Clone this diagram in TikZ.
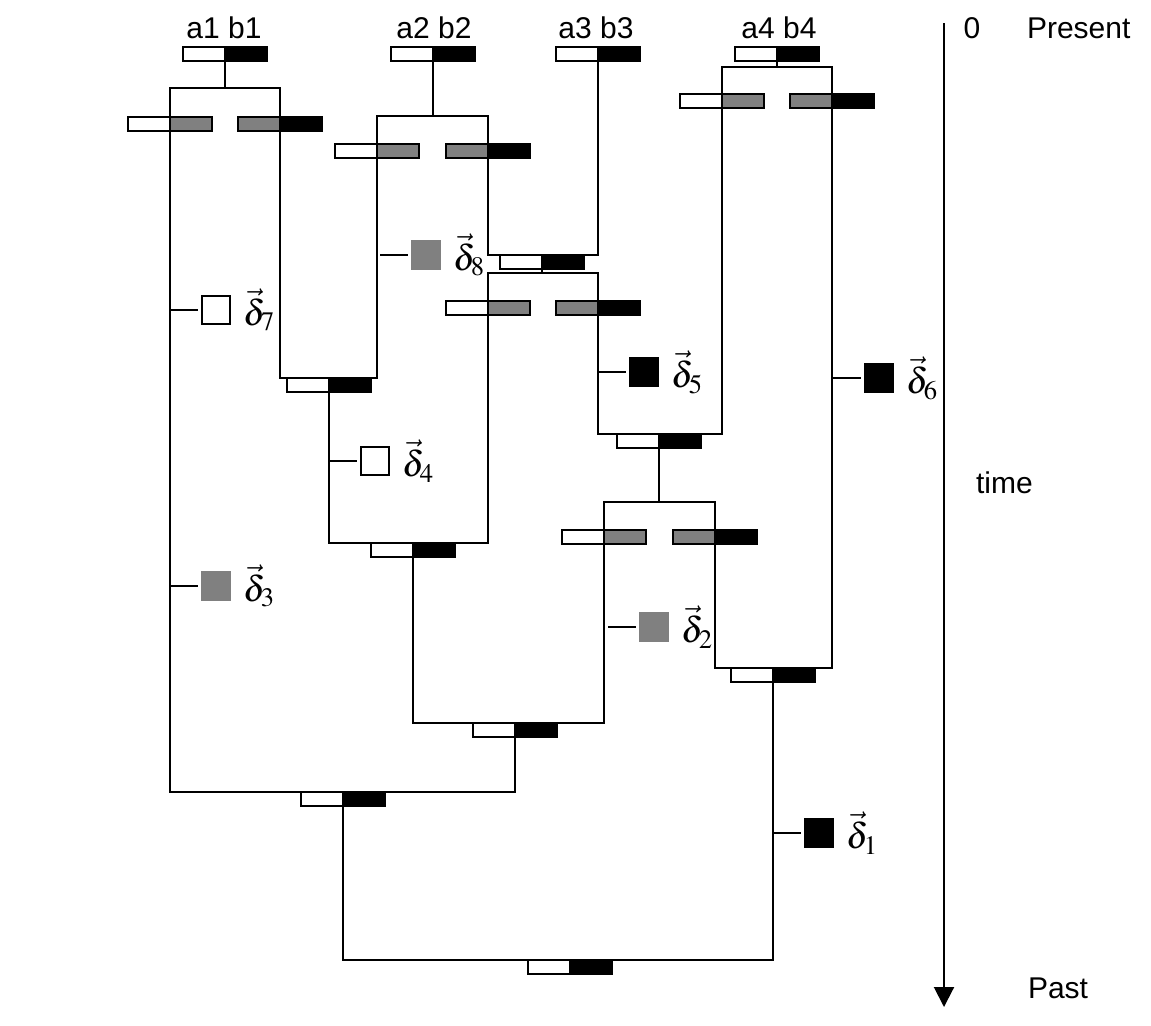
\documentclass[tikz,border=0pt]{standalone}
\usepackage{mathptmx}
\usepackage[no-math]{fontspec}
\setmainfont{Liberation Sans}
\usepackage{tikz}
\usetikzlibrary{positioning, arrows.meta}
\definecolor{midgray}{RGB}{128, 128, 128}
% gene pair: name, x, y, left half, right half
\newcommand*{\gpair}[5]{%
  \node[#4, anchor=east] (#1-l) at (#2, #3) {};
  \node[#5, anchor=west] (#1-r) at (#2, #3) {};}

\begin{document}
\begin{tikzpicture}[
   x=0.5pt, y=-0.5pt,
   line width=1pt,
   half/.style={rectangle, draw=black, line width=1pt, inner sep=0, outer sep=0,
                minimum width=21pt, minimum height=7pt},
   wbox/.style={half, fill=white},
   gbox/.style={half, fill=midgray},
   bbox/.style={half, fill=black},
   sq/.style={rectangle, line width=1pt, inner sep=0, outer sep=0, minimum size=14pt},
   whitesq/.style={sq, draw=black, fill=white},
   graysq/.style={sq, draw=midgray, fill=midgray},
   blacksq/.style={sq, draw=black, fill=black},
   lbl/.style={inner sep=0, font=\fontsize{15}{18}\selectfont},
   dlabel/.style={inner sep=0, font=\fontsize{18}{21}\selectfont}
  ]

  \useasboundingbox (0, 0) rectangle (1151, 1025);

  % Gene pairs
  \foreach \nm/\x/\y/\ls/\rs in {g1/225/54/wbox/bbox, g2/433/54/wbox/bbox,
                                  g3/598/54/wbox/bbox, g4/777/54/wbox/bbox,
                                  p1a/170/124/wbox/gbox, p1b/280/124/gbox/bbox,
                                  p2a/377/151/wbox/gbox, p2b/488/151/gbox/bbox,
                                  p4a/722/101/wbox/gbox, p4b/832/101/gbox/bbox,
                                  s1/542/262/wbox/bbox,
                                  p5a/488/308/wbox/gbox, p5b/598/308/gbox/bbox,
                                  s2/329/385/wbox/bbox, s4/659/441/wbox/bbox,
                                  p6a/604/537/wbox/gbox, p6b/715/537/gbox/bbox,
                                  s3/413/550/wbox/bbox, s5/773/675/wbox/bbox,
                                  s6/515/730/wbox/bbox, s7/343/799/wbox/bbox,
                                  s0/570/967/wbox/bbox} {
    \gpair{\nm}{\x}{\y}{\ls}{\rs}
  }

  \node[lbl, anchor=base] (n1) at (224, 38) {a1 b1};
  \node[lbl, anchor=base] (n2) at (434, 38) {a2 b2};
  \node[lbl, anchor=base] (n3) at (596, 38) {a3 b3};
  \node[lbl, anchor=base] (n4) at (779, 38) {a4 b4};

  % Duplications
  \coordinate (bar1) at (225, 88);
  \coordinate (bar2) at (433, 116);
  \coordinate (bar4) at (777, 67);
  \coordinate (bar5) at (542, 273);
  \coordinate (bar6) at (659, 502);

  \foreach \P/\M/\X/\Y in {g1/bar1/p1a/p1b, g2/bar2/p2a/p2b, g4/bar4/p4a/p4b,
                           s1/bar5/p5a/p5b, s4/bar6/p6a/p6b} {
    \draw (\P-l.south east) -- (\M);
    \draw (\X-l.north east) |- (\M) -| (\Y-l.north east);
  }

  % Speciations
  \foreach \X/\P/\Y in {p2b/s1/g3, p1b/s2/p2a, s2/s3/p5a, p5b/s4/p4a,
                        p6b/s5/p4b, s3/s6/p6a, p1a/s7/s6, s7/s0/s5} {
    \draw (\X-l.south east) |- (\P-l.north east) -| (\Y-l.south east);
  }

  % Changes along branches
  \foreach \n/\x/\y/\s in {1/773/833/blacksq, 2/608/627/graysq,
                           3/170/586/graysq, 4/329/461/whitesq,
                           5/598/372/blacksq, 6/833/378/blacksq,
                           7/170/310/whitesq, 8/380/255/graysq} {
    \coordinate (t\n) at (\x, \y);
    \node[\s, right=16pt of t\n] (d\n) {};
    \node[dlabel, right=6pt of d\n] (l\n) {$\vec{\delta}_{\n}$};
    \draw[shorten >=2pt] (t\n) -- (d\n);
  }

  % Time axis
  \coordinate (axtop) at (944, 23);
  \coordinate (axbot) at (944, 1007);
  \draw[-{Triangle[width=10pt, length=10pt]}] (axtop) -- (axbot);

  \node[lbl, anchor=base] (zero) at (972, 38) {0};
  \node[lbl, anchor=base west] (present) at (1026, 38) {Present};
  \node[lbl, anchor=base west] (timelbl) at (975, 493) {time};
  \node[lbl, anchor=base west] (past) at (1027, 998) {Past};

\end{tikzpicture}
\end{document}
